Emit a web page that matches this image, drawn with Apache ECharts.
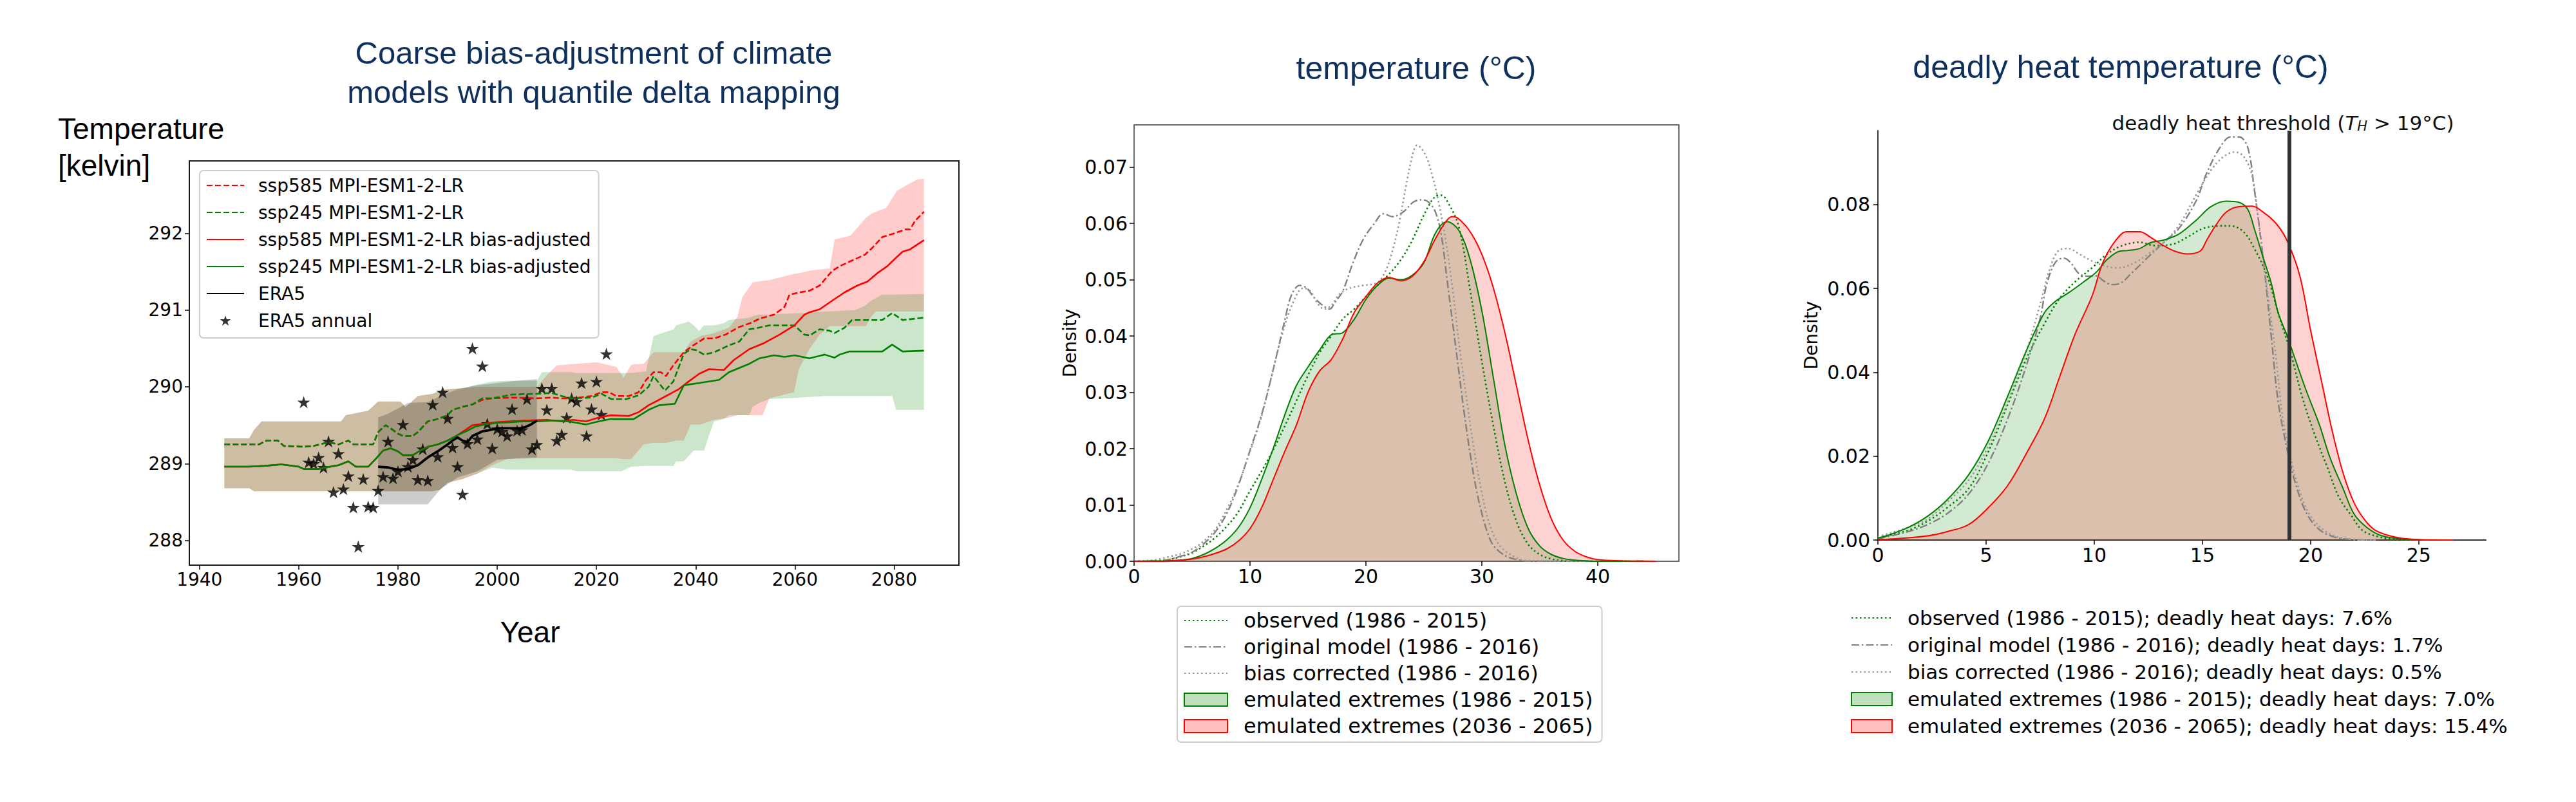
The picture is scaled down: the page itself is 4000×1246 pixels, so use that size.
<!DOCTYPE html>
<html><head><meta charset="utf-8">
<script src="https://cdn.jsdelivr.net/npm/echarts@6.0.0/dist/echarts.min.js"></script>
<style>html,body{margin:0;padding:0;background:#fff}#c{width:4000px;height:1246px}</style>
</head><body><div id="c"></div>
<script>
// ---------------- Panel 1 data (year, kelvin) ----------------
const P1_XTICKS = [1940, 1960, 1980, 2000, 2020, 2040, 2060, 2080];
const P1_YTICKS = [288, 289, 290, 291, 292];

const ssp585Raw = [[1945,289.25],[1952,289.25],[1953.5,289.30],[1955.8,289.30],[1957,289.23],[1961,289.22],[1963,289.23],[1966,289.28],[1968,289.25],[1970,289.30],[1971,289.25],[1975,289.25],[1976,289.41],[1977.5,289.50],[1978.5,289.46],[1980,289.39],[1981,289.36],[1983,289.36],[1984,289.41],[1985,289.48],[1986,289.55],[1988,289.58],[1990,289.63],[1991,289.70],[1993,289.74],[1995,289.77],[1997,289.83],[1999,289.85],[2003,289.86],[2008,289.85],[2011,289.86],[2013,289.85],[2015,289.85],[2019,289.88],[2021,289.93],[2022.5,289.93],[2024,289.88],[2026.5,289.88],[2028.5,289.93],[2030,290.09],[2031.5,290.19],[2033,290.19],[2034,290.14],[2035.5,290.28],[2037.6,290.45],[2039.5,290.54],[2041.7,290.63],[2043.7,290.63],[2046,290.68],[2048.8,290.78],[2051,290.83],[2053,290.89],[2055.8,290.94],[2057.9,291.04],[2058.9,291.20],[2060.9,291.23],[2062.9,291.25],[2065,291.32],[2067.5,291.51],[2069,291.57],[2071,291.63],[2074.1,291.72],[2075.6,291.81],[2077.6,291.95],[2080.1,292.00],[2082.2,292.05],[2083.2,292.05],[2084.2,292.16],[2086,292.28]];
const ssp245Raw = [[1945,289.25],[1952,289.25],[1953.5,289.30],[1955.8,289.30],[1957,289.23],[1961,289.22],[1963,289.23],[1966,289.28],[1968,289.25],[1970,289.30],[1971,289.25],[1975,289.25],[1976,289.41],[1977.5,289.50],[1978.5,289.46],[1980,289.39],[1981,289.36],[1983,289.36],[1984,289.41],[1985,289.48],[1986,289.55],[1988,289.58],[1990,289.63],[1991,289.70],[1993,289.74],[1995,289.77],[1997,289.85],[1999,289.85],[2003,289.90],[2008,289.91],[2011,289.92],[2013,289.88],[2015,289.85],[2019,289.86],[2021,289.91],[2023,289.84],[2026,289.84],[2028.5,289.89],[2030.5,290.00],[2031.5,290.14],[2033.8,289.95],[2035.5,290.07],[2037.6,290.43],[2039,290.49],[2040,290.48],[2041.7,290.42],[2043.7,290.45],[2046.7,290.54],[2048.8,290.59],[2050.8,290.75],[2052,290.76],[2054.8,290.80],[2059.9,290.80],[2061.9,290.68],[2063,290.67],[2065,290.75],[2067,290.73],[2068,290.70],[2070,290.77],[2071.5,290.87],[2077.6,290.87],[2079.6,290.96],[2081.7,290.87],[2086,290.90]];
const ssp585Adj = [[1945,288.96],[1950,288.96],[1953,288.97],[1956.5,288.99],[1960,288.96],[1961,288.93],[1964,288.93],[1965.5,288.95],[1968,288.98],[1970,289.03],[1971.5,288.96],[1974,288.96],[1975.5,289.06],[1977,289.17],[1978.5,289.20],[1980,289.16],[1981,289.11],[1983,289.11],[1984.5,289.17],[1986,289.22],[1988,289.25],[1990,289.30],[1992,289.37],[1995,289.50],[2000,289.54],[2005,289.56],[2010,289.57],[2013,289.55],[2015.3,289.57],[2017.9,289.55],[2020.4,289.60],[2022.9,289.63],[2026.5,289.62],[2028.5,289.67],[2030.5,289.76],[2032.6,289.83],[2034.6,289.90],[2036.6,289.97],[2038.6,290.07],[2040.7,290.17],[2042.7,290.23],[2045.7,290.22],[2047.7,290.35],[2050.8,290.49],[2053.8,290.57],[2056.9,290.68],[2059.9,290.80],[2061.9,290.94],[2062.9,290.97],[2065,291.01],[2067,291.10],[2070,291.23],[2072.6,291.32],[2074.6,291.37],[2076.6,291.48],[2078.6,291.57],[2080.2,291.67],[2081.7,291.76],[2083.2,291.79],[2086,291.91]];
const ssp245Adj = [[1945,288.96],[1950,288.96],[1953,288.97],[1956.5,288.99],[1960,288.96],[1961,288.93],[1964,288.93],[1965.5,288.95],[1968,288.98],[1970,289.03],[1971.5,288.96],[1974,288.96],[1975.5,289.06],[1977,289.17],[1978.5,289.20],[1980,289.16],[1981,289.11],[1983,289.11],[1984.5,289.17],[1986,289.22],[1988,289.25],[1990,289.30],[1992,289.37],[1994,289.43],[1995.5,289.48],[1997.5,289.51],[2000,289.53],[2003,289.54],[2005,289.55],[2008,289.55],[2011,289.56],[2013,289.56],[2015.3,289.54],[2017.9,289.51],[2020.4,289.55],[2022.9,289.58],[2027.5,289.58],[2030.5,289.70],[2032.6,289.76],[2035.8,289.78],[2037.6,290.02],[2040.7,290.05],[2044.7,290.09],[2046.7,290.19],[2050.8,290.30],[2052.8,290.37],[2055.8,290.41],[2057.9,290.39],[2059.9,290.41],[2062.9,290.37],[2066,290.42],[2068,290.38],[2069,290.42],[2071,290.46],[2077.6,290.46],[2079.6,290.55],[2081.7,290.46],[2086,290.47]];
const era5Smooth = [[1976,288.96],[1978,288.95],[1980,288.92],[1982,288.93],[1984,288.98],[1985,289.03],[1986,289.08],[1988,289.16],[1990,289.25],[1991,289.30],[1992,289.34],[1993,289.30],[1994,289.28],[1995,289.36],[1996,289.39],[1997,289.42],[1998,289.43],[2000,289.46],[2002,289.46],[2004.7,289.46],[2005.8,289.48],[2006.8,289.51],[2008,289.56]];
const annualYears = [1961,1962,1963,1964,1965,1966,1967,1968,1969,1970,1971,1972,1973,1974,1975,1976,1977,1978,1979,1980,1981,1982,1983,1984,1985,1986,1987,1988,1989,1990,1991,1992,1993,1994,1995,1996,1997,1998,1999,2000,2001,2002,2003,2004,2005,2006,2007,2008,2009,2010,2011,2012,2013,2014,2015,2016,2017,2018,2019,2020,2021,2022];
const era5Annual = [289.80,289.02,289.00,289.08,288.95,289.29,288.63,289.13,288.67,288.84,288.43,287.92,288.80,288.44,288.43,288.65,288.83,289.29,288.81,288.90,289.51,288.96,289.05,288.79,289.19,288.78,289.77,289.09,289.93,289.59,289.21,288.96,288.60,289.26,290.50,289.32,290.27,289.52,289.20,289.45,289.42,289.36,289.71,289.43,289.44,289.84,289.19,289.25,289.98,289.70,289.98,289.30,289.38,289.60,289.85,289.81,290.05,289.36,289.71,290.07,289.64,290.43];
// ranges: [year, low, high]
const ssp585Range = [[1945,288.68,289.33],[1950,288.68,289.33],[1951,288.64,289.44],[1952.5,288.64,289.55],[1968.5,288.64,289.55],[1969.5,288.64,289.63],[1974,288.64,289.69],[1976,288.64,289.81],[1980.5,288.64,289.81],[1981.5,288.64,289.74],[1982.5,288.64,289.79],[1984,288.64,289.88],[1987,288.64,289.91],[1988.5,288.66,289.95],[1990,288.75,289.97],[1993,288.80,289.98],[1996,288.87,290.00],[1999,288.98,290.00],[2002,289.06,290.00],[2008,289.07,290.00],[2010,289.07,290.15],[2012,289.07,290.28],[2016,289.07,290.30],[2020,289.07,290.32],[2024,289.07,290.26],[2025.5,289.06,290.12],[2027,289.06,290.29],[2029.5,289.25,290.30],[2031.5,289.27,290.45],[2034,289.27,290.45],[2036,289.30,290.45],[2037.6,289.30,290.45],[2039,289.51,290.59],[2041,289.51,290.66],[2043.7,289.57,290.70],[2046.7,289.60,290.77],[2048.4,289.63,290.91],[2049.4,289.63,291.17],[2051.5,289.63,291.36],[2053.5,289.63,291.38],[2054.8,289.85,291.39],[2059.8,289.93,291.47],[2060.8,290.23,291.48],[2062.9,290.49,291.51],[2065,290.68,291.53],[2067,290.79,291.54],[2068,290.79,291.92],[2071.2,290.79,291.97],[2074.3,290.79,292.20],[2075.3,290.91,292.25],[2076.3,290.98,292.28],[2078.4,290.98,292.33],[2080.5,290.98,292.55],[2082.6,290.98,292.63],[2084.7,290.98,292.70],[2086,290.98,292.71]];
const ssp245Range = [[1945,288.68,289.33],[1950,288.68,289.33],[1951,288.64,289.44],[1952.5,288.64,289.55],[1968.5,288.64,289.55],[1969.5,288.64,289.63],[1974,288.64,289.69],[1976,288.64,289.81],[1980.5,288.64,289.81],[1981.5,288.64,289.74],[1982.5,288.64,289.79],[1984,288.64,289.88],[1987,288.64,289.91],[1988.5,288.66,289.95],[1990,288.75,289.97],[1993,288.80,289.98],[1996,288.87,290.03],[1999,288.95,290.07],[2002,288.92,290.08],[2008,288.92,290.08],[2009,288.92,290.19],[2015,288.92,290.19],[2016,288.90,290.18],[2025,288.90,290.18],[2027,288.96,290.18],[2030,288.97,290.20],[2031.5,288.97,290.66],[2035.6,288.97,290.75],[2036,289.03,290.80],[2037.6,289.03,290.83],[2038.6,289.10,290.85],[2039.6,289.17,290.80],[2040.7,289.17,290.73],[2041.7,289.17,290.80],[2042.7,289.37,290.80],[2043.7,289.55,290.80],[2045.7,289.58,290.83],[2046.7,289.63,290.87],[2050.8,289.63,290.90],[2051.5,289.74,290.92],[2052.8,289.79,290.94],[2054.8,289.84,290.94],[2060.9,289.86,290.96],[2066,289.88,290.98],[2072,289.88,291.00],[2074,289.88,291.05],[2075.5,289.88,291.13],[2077.6,289.88,291.20],[2079.6,289.88,291.20],[2080.4,289.70,291.20],[2086,289.70,291.21]];
const era5Range = [[1976,288.47,289.60],[1978,288.47,289.65],[1980,288.47,289.72],[1982,288.47,289.79],[1986,288.47,289.80],[1988.6,288.67,289.88],[1992,288.82,289.97],[1996,288.90,290.02],[2000,289.05,290.05],[2004,289.07,290.08],[2008,289.08,290.10]];

// ---------------- Panel 2 data (temperature °C, density) ----------------
const P2_XTICKS = [0, 10, 20, 30, 40];
const P2_YTICKS = [0, 0.01, 0.02, 0.03, 0.04, 0.05, 0.06, 0.07];
const tempObserved = [[0,0],[2,0.0001],[3,0.0003],[4,0.0008],[5,0.0015],[6,0.0027],[7,0.0042],[8,0.0062],[9,0.0088],[10,0.0125],[11,0.016],[12,0.0198],[13,0.024],[14,0.0285],[15,0.033],[16,0.037],[17,0.040],[18,0.043],[19,0.0448],[20,0.047],[21,0.049],[22,0.051],[23,0.0535],[24,0.057],[25,0.0615],[26,0.0648],[26.5,0.065],[27,0.064],[28,0.0595],[29,0.048],[30,0.0355],[31,0.024],[32,0.014],[33,0.007],[34,0.003],[35,0.0012],[36,0.0004],[37,0.0001],[38,0],[44,0]];
const tempOriginal = [[0,0],[2,0.0001],[3,0.0003],[4,0.0009],[5,0.0016],[6,0.0031],[7,0.0052],[8,0.0085],[9,0.0135],[10,0.0197],[11,0.026],[12,0.034],[13,0.0428],[13.6,0.0474],[14.3,0.049],[14.9,0.0485],[15.5,0.0469],[16.3,0.0454],[16.9,0.0448],[17.3,0.0459],[18,0.048],[18.9,0.0531],[19.8,0.0573],[20.7,0.0599],[21.5,0.0617],[22.3,0.0612],[23.2,0.062],[24.1,0.0638],[24.8,0.0642],[25.4,0.0638],[26,0.062],[26.5,0.058],[27,0.05],[27.5,0.042],[28,0.034],[28.5,0.026],[29,0.019],[29.5,0.013],[30,0.0085],[30.5,0.005],[31,0.0028],[32,0.001],[33,0.0003],[34,0],[44,0]];
const tempBiasCorr = [[0,0],[1,0.0001],[2,0.0003],[3,0.0008],[4,0.0013],[5,0.0022],[5.6,0.0029],[6.9,0.0054],[8.1,0.0096],[9,0.0137],[9.9,0.0189],[10.9,0.0251],[11.8,0.0324],[12.7,0.0397],[13.6,0.0454],[14.6,0.0485],[15.2,0.048],[15.8,0.0459],[16.4,0.0448],[17,0.0454],[17.7,0.0474],[18.6,0.0485],[19.8,0.049],[21,0.0495],[21.7,0.0516],[22.3,0.0552],[22.9,0.0604],[23.5,0.0671],[24.1,0.0728],[24.4,0.0739],[25.1,0.0723],[25.7,0.0687],[26.3,0.0635],[26.9,0.0568],[27.5,0.048],[28.1,0.0376],[28.8,0.0272],[29.4,0.0189],[30,0.0122],[30.6,0.007],[31.5,0.0029],[32.8,0.0008],[34,0.0001],[44,0]];
const tempEmuHist = [[0,0],[3,0.0001],[4,0.0002],[5,0.0005],[6,0.0012],[7,0.0023],[8,0.0038],[9,0.006],[10,0.0095],[11,0.0145],[12,0.020],[13,0.026],[14,0.0312],[15,0.0345],[16,0.0375],[17,0.0402],[18,0.0406],[19,0.043],[20,0.0465],[21,0.049],[22,0.0503],[23,0.050],[24,0.0508],[25,0.053],[26,0.0583],[27,0.0603],[28,0.0588],[29,0.0535],[30,0.0445],[31,0.0325],[32,0.0205],[33,0.0118],[34,0.0058],[35,0.0027],[36,0.0012],[37,0.0005],[38,0.0002],[40,0],[44,0]];
const tempEmuFut = [[0,0],[2,0],[4,0.0002],[5,0.0004],[6,0.0008],[7,0.0014],[8,0.0022],[9,0.0036],[10,0.0058],[11,0.0095],[12,0.0145],[13,0.0195],[14,0.0242],[15,0.030],[16,0.0338],[17,0.0358],[18,0.0395],[19,0.0442],[20,0.047],[21,0.0494],[22,0.0504],[23,0.0498],[24,0.0506],[25,0.0532],[26,0.0573],[27,0.0606],[27.5,0.0612],[28,0.0608],[29,0.0585],[30,0.0545],[31,0.0485],[32,0.0405],[33,0.031],[34,0.0215],[35,0.0135],[36,0.0075],[37,0.0038],[38,0.0018],[39,0.0008],[40,0.0003],[42,0.0001],[45,0]];

// ---------------- Panel 3 data (deadly heat temperature °C, density) ----------------
const P3_XTICKS = [0, 5, 10, 15, 20, 25];
const P3_YTICKS = [0, 0.02, 0.04, 0.06, 0.08];
const THRESHOLD = 19;
const heatObserved = [[0,0.0005],[1.4,0.0023],[2.3,0.0045],[3.2,0.0077],[4.2,0.0123],[5.1,0.021],[6,0.0323],[6.9,0.0436],[7.7,0.0516],[8.4,0.0576],[9.1,0.0615],[9.9,0.0649],[10.6,0.0682],[11.3,0.0702],[12.1,0.071],[12.8,0.0702],[13.6,0.0705],[14.3,0.0722],[15,0.0742],[15.8,0.0749],[16.3,0.0749],[16.9,0.0735],[17.4,0.0695],[18,0.0629],[18.5,0.0542],[19.1,0.0442],[19.6,0.0343],[20.2,0.025],[20.8,0.017],[21.3,0.0103],[21.9,0.0057],[22.4,0.0023],[23.2,0.0007],[24,0.0001],[25,0]];
const heatOriginal = [[0,0.0003],[1.4,0.002],[2.3,0.0037],[3.2,0.0063],[4.2,0.011],[5.1,0.0183],[6,0.0289],[6.9,0.0422],[7.5,0.0529],[7.8,0.0609],[8.2,0.0662],[8.6,0.0672],[8.9,0.0662],[9.3,0.0635],[9.7,0.0629],[10.1,0.063],[10.4,0.0619],[10.8,0.0609],[11.2,0.0612],[11.7,0.0635],[12.5,0.0675],[13.2,0.0709],[13.9,0.0742],[14.7,0.0808],[15.2,0.0875],[15.8,0.0935],[16.3,0.0961],[16.7,0.0961],[17.1,0.0935],[17.4,0.0835],[17.8,0.0675],[18.2,0.0476],[18.5,0.033],[18.9,0.022],[19.3,0.0135],[19.8,0.0065],[20.4,0.0025],[21.1,0.0007],[22,0.0001],[23,0]];
const heatBiasCorr = [[0,0.0008],[1.4,0.003],[2.3,0.005],[3.2,0.009],[4.2,0.0143],[5.1,0.0223],[6,0.0329],[6.9,0.0456],[7.5,0.0562],[8,0.0655],[8.4,0.0692],[8.8,0.0695],[9.3,0.0682],[9.9,0.0665],[10.4,0.0655],[11,0.0649],[11.3,0.065],[11.9,0.0662],[12.5,0.0682],[13.2,0.0709],[13.9,0.0749],[14.7,0.0822],[15.4,0.0882],[16,0.0915],[16.5,0.0925],[16.9,0.0915],[17.3,0.0868],[17.6,0.0755],[18,0.0595],[18.4,0.0436],[18.7,0.0296],[19.1,0.019],[19.5,0.0116],[20,0.0057],[20.8,0.0017],[21.7,0.0003],[23,0]];
const heatEmuHist = [[0,0.0005],[0.5,0.0012],[1.4,0.003],[2.3,0.0057],[3.2,0.0096],[4.2,0.0156],[5.1,0.0236],[6,0.0343],[6.9,0.0456],[7.7,0.0542],[8.2,0.0569],[8.8,0.0589],[9.5,0.0615],[10.1,0.0639],[10.6,0.0669],[11.2,0.0689],[11.5,0.069],[12.1,0.0695],[12.6,0.0709],[13.2,0.0715],[13.9,0.0729],[14.7,0.0762],[15.4,0.0795],[16.1,0.0808],[16.7,0.0805],[17.1,0.0788],[17.4,0.0742],[17.8,0.0675],[18.2,0.0609],[18.5,0.0542],[18.9,0.0489],[19.3,0.0429],[19.8,0.0356],[20.4,0.0276],[20.9,0.0196],[21.5,0.0123],[22,0.0063],[22.6,0.003],[23.3,0.001],[24.4,0.0002],[25.5,0]];
const heatEmuFut = [[0,0.0001],[1,0.0004],[2.3,0.001],[3.2,0.002],[4.2,0.0037],[5.1,0.0077],[6,0.013],[6.9,0.021],[7.7,0.0289],[8.4,0.0389],[9.1,0.0489],[9.9,0.0582],[10.4,0.0662],[11,0.0715],[11.5,0.0735],[12.1,0.0735],[12.6,0.0722],[13.2,0.0702],[13.7,0.0689],[14.3,0.0682],[14.9,0.0689],[15.2,0.0715],[15.6,0.0749],[16.1,0.0782],[16.7,0.0795],[17.3,0.0796],[17.8,0.0782],[18.4,0.0755],[18.9,0.0715],[19.5,0.063],[20,0.050],[20.5,0.038],[21,0.026],[21.5,0.016],[22,0.009],[22.5,0.0048],[23,0.0023],[24,0.0006],[25,0.0001],[26.6,0]];

// ---------------- Labels ----------------
const P1_NAMES = ['ssp585 MPI-ESM1-2-LR', 'ssp245 MPI-ESM1-2-LR', 'ssp585 MPI-ESM1-2-LR bias-adjusted', 'ssp245 MPI-ESM1-2-LR bias-adjusted', 'ERA5', 'ERA5 annual'];
const P2_NAMES = ['observed (1986 - 2015)', 'original model (1986 - 2016)', 'bias corrected (1986 - 2016)', 'emulated extremes (1986 - 2015)', 'emulated extremes (2036 - 2065)'];
const P3_NAMES = ['observed (1986 - 2015); deadly heat days: 7.6%', 'original model (1986 - 2016); deadly heat days: 1.7%', 'bias corrected (1986 - 2016); deadly heat days: 0.5%', 'emulated extremes (1986 - 2015); deadly heat days: 7.0%', 'emulated extremes (2036 - 2065); deadly heat days: 15.4%'];

// ---------------- Styles ----------------
const FONT = 'DejaVu Sans';
const TITLE_FONT = 'Liberation Sans';
const NAVY = '#0f2f5c';
const GREEN = '#008000', RED = '#ff0000', GRAY = '#808080', LGRAY = '#9a9a9a';
const STAR = 'path://M0,-1L0.2245,-0.309L0.9511,-0.309L0.3633,0.118L0.5878,0.809L0,0.382L-0.5878,0.809L-0.3633,0.118L-0.9511,-0.309L-0.2245,-0.309Z';
const DOT = [2.5, 4], DASH = [9, 4], DASHDOT = [12, 4, 2.5, 4];

function band(name, data, fill, idx) {
  return {
    type: 'custom', name: name, xAxisIndex: idx, yAxisIndex: idx, silent: true, clip: true,
    data: data, encode: { x: 0, y: [1, 2] },
    renderItem: function (params, api) {
      if (params.dataIndex !== 0) return null;
      const pts = [];
      for (let i = 0; i < data.length; i++) pts.push(api.coord([data[i][0], data[i][2]]));
      for (let i = data.length - 1; i >= 0; i--) pts.push(api.coord([data[i][0], data[i][1]]));
      return { type: 'polygon', shape: { points: pts }, style: { fill: fill } };
    }
  };
}
function line(name, data, idx, color, width, type, extra) {
  return Object.assign({
    type: 'line', name: name, xAxisIndex: idx, yAxisIndex: idx, data: data,
    symbol: 'none', showSymbol: false, silent: true,
    lineStyle: { color: color, width: width, type: type },
    itemStyle: { color: color }
  }, extra || {});
}
function axisLbl(size, ticks, margin, fmt) {
  return { customValues: ticks, color: '#000', fontFamily: FONT, fontSize: size, margin: margin, formatter: fmt };
}
const f2 = v => v.toFixed(2);
const fi = v => String(Math.round(v));
// line-only legend handle: hide the marker that ECharts puts in the middle
const lineItem = n => ({ name: n, itemStyle: { color: 'rgba(0,0,0,0)', borderColor: 'rgba(0,0,0,0)', borderWidth: 0, opacity: 0 } });

const option = {
  animation: false,
  backgroundColor: '#ffffff',
  textStyle: { fontFamily: FONT },
  grid: [
    { left: 294, top: 250, width: 1195, height: 628, show: true, borderColor: '#1a1a1a', borderWidth: 2, backgroundColor: 'transparent' },
    { left: 1761, top: 194, width: 846, height: 678, show: true, borderColor: '#3a3a3a', borderWidth: 1.5, backgroundColor: 'transparent' },
    { left: 2916, top: 203, width: 944, height: 636, show: false }
  ],
  xAxis: [
    { gridIndex: 0, type: 'value', min: 1937.95, max: 2093.05, axisLine: { show: false }, splitLine: { show: false },
      axisTick: { customValues: P1_XTICKS, length: 7, lineStyle: { color: '#000', width: 1.5 } }, axisLabel: axisLbl(28, P1_XTICKS, 8, fi) },
    { gridIndex: 1, type: 'value', min: 0, max: 47, axisLine: { show: false }, splitLine: { show: false },
      axisTick: { customValues: P2_XTICKS, length: 7, lineStyle: { color: '#000', width: 1.5 } }, axisLabel: axisLbl(30, P2_XTICKS, 8, fi) },
    { gridIndex: 2, type: 'value', min: 0, max: 28.1, axisLine: { show: true, onZero: false, lineStyle: { color: '#333', width: 2 } }, splitLine: { show: false },
      axisTick: { customValues: P3_XTICKS, length: 7, lineStyle: { color: '#000', width: 1.5 } }, axisLabel: axisLbl(30, P3_XTICKS, 8, fi) }
  ],
  yAxis: [
    { gridIndex: 0, type: 'value', min: 287.678, max: 292.942, axisLine: { show: false }, splitLine: { show: false },
      axisTick: { customValues: P1_YTICKS, length: 7, lineStyle: { color: '#000', width: 1.5 } }, axisLabel: axisLbl(28, P1_YTICKS, 10, fi) },
    { gridIndex: 1, type: 'value', min: 0, max: 0.0775, axisLine: { show: false }, splitLine: { show: false },
      name: 'Density', nameLocation: 'middle', nameGap: 86, nameRotate: 90, nameTextStyle: { fontFamily: FONT, fontSize: 28, color: '#000' },
      axisTick: { customValues: P2_YTICKS, length: 7, lineStyle: { color: '#000', width: 1.5 } }, axisLabel: axisLbl(30, P2_YTICKS, 10, f2) },
    { gridIndex: 2, type: 'value', min: 0, max: 0.0976, axisLine: { show: true, onZero: false, lineStyle: { color: '#333', width: 2 } }, splitLine: { show: false },
      name: 'Density', nameLocation: 'middle', nameGap: 90, nameRotate: 90, nameTextStyle: { fontFamily: FONT, fontSize: 28, color: '#000' },
      axisTick: { customValues: P3_YTICKS, length: 7, lineStyle: { color: '#000', width: 1.5 } }, axisLabel: axisLbl(30, P3_YTICKS, 12, f2) }
  ],
  legend: [
    { left: 310, top: 265, orient: 'vertical', selectedMode: false, itemWidth: 58, itemHeight: 16, itemGap: 12,
      padding: [8, 12, 12, 10], borderColor: '#cccccc', borderWidth: 2, borderRadius: 6, backgroundColor: 'rgba(255,255,255,0.8)',
      textStyle: { fontFamily: FONT, fontSize: 28, color: '#000', lineHeight: 30, padding: [0, 0, 0, 17] },
      data: P1_NAMES.slice(0, 5).map(lineItem).concat([{ name: P1_NAMES[5], icon: STAR }]) },
    { left: 1828, top: 942, orient: 'vertical', selectedMode: false, itemWidth: 67, itemHeight: 20, itemGap: 7,
      padding: [5, 14, 8, 10], borderColor: '#cccccc', borderWidth: 2, borderRadius: 6, backgroundColor: 'rgba(255,255,255,0.8)',
      textStyle: { fontFamily: FONT, fontSize: 32, color: '#000', lineHeight: 34, padding: [0, 0, 0, 20] },
      data: P2_NAMES.slice(0, 3).map(lineItem).concat([
        { name: P2_NAMES[3], icon: 'rect', itemStyle: { color: 'rgba(0,128,0,0.25)', borderColor: GREEN, borderWidth: 2 } },
        { name: P2_NAMES[4], icon: 'rect', itemStyle: { color: 'rgba(255,0,0,0.25)', borderColor: RED, borderWidth: 2 } }]) },
    { left: 2864, top: 938, orient: 'vertical', selectedMode: false, itemWidth: 63, itemHeight: 20, itemGap: 8,
      padding: [5, 10, 8, 10], backgroundColor: 'rgba(255,255,255,0.8)',
      textStyle: { fontFamily: FONT, fontSize: 31, color: '#000', lineHeight: 34, padding: [0, 0, 0, 19] },
      data: P3_NAMES.slice(0, 3).map(lineItem).concat([
        { name: P3_NAMES[3], icon: 'rect', itemStyle: { color: 'rgba(0,128,0,0.25)', borderColor: GREEN, borderWidth: 2 } },
        { name: P3_NAMES[4], icon: 'rect', itemStyle: { color: 'rgba(255,0,0,0.25)', borderColor: RED, borderWidth: 2 } }]) }
  ],
  graphic: [
    { type: 'text', x: 922, y: 112, style: { text: 'Coarse bias-adjustment of climate\nmodels with quantile delta mapping', fontFamily: TITLE_FONT, fontSize: 49, lineHeight: 61, fill: NAVY, align: 'center', verticalAlign: 'middle' } },
    { type: 'text', x: 2199, y: 106, style: { text: 'temperature (°C)', fontFamily: TITLE_FONT, fontSize: 50, fill: NAVY, align: 'center', verticalAlign: 'middle' } },
    { type: 'text', x: 3293, y: 104, style: { text: 'deadly heat temperature (°C)', fontFamily: TITLE_FONT, fontSize: 50, fill: NAVY, align: 'center', verticalAlign: 'middle' } },
    { type: 'text', x: 90, y: 228, style: { text: 'Temperature\n[kelvin]', fontFamily: TITLE_FONT, fontSize: 46, lineHeight: 57, fill: '#000', align: 'left', verticalAlign: 'middle' } },
    { type: 'text', x: 823, y: 982, style: { text: 'Year', fontFamily: TITLE_FONT, fontSize: 46, fill: '#000', align: 'center', verticalAlign: 'middle' } },
    { type: 'text', x: 3545, y: 186, style: {
        text: '{a|deadly heat threshold (}{i|T}{s|H}{a| > 19°C)}', align: 'center', verticalAlign: 'middle', fill: '#111',
        rich: {
          a: { fontFamily: FONT, fontSize: 31, lineHeight: 40, verticalAlign: 'bottom', fill: '#111' },
          i: { fontFamily: FONT, fontSize: 31, fontStyle: 'italic', lineHeight: 40, verticalAlign: 'bottom', fill: '#111' },
          s: { fontFamily: FONT, fontSize: 21, fontStyle: 'italic', lineHeight: 22, padding: [18, 0, 0, 0], verticalAlign: 'bottom', fill: '#111' }
        } } }
  ],
  series: [
    // ---- panel 1
    band('ssp585 range', ssp585Range, 'rgba(255,0,0,0.2)', 0),
    band('ssp245 range', ssp245Range, 'rgba(0,128,0,0.2)', 0),
    band('ERA5 range', era5Range, 'rgba(0,0,0,0.2)', 0),
    line(P1_NAMES[0], ssp585Raw, 0, RED, 2.6, DASH),
    line(P1_NAMES[1], ssp245Raw, 0, GREEN, 2.6, DASH),
    line(P1_NAMES[2], ssp585Adj, 0, RED, 2.6, 'solid'),
    line(P1_NAMES[3], ssp245Adj, 0, GREEN, 2.6, 'solid'),
    line(P1_NAMES[4], era5Smooth, 0, '#000', 3.8, 'solid'),
    { type: 'scatter', name: P1_NAMES[5], xAxisIndex: 0, yAxisIndex: 0, silent: true,
      data: annualYears.map((y, i) => [y, era5Annual[i]]),
      symbol: STAR, symbolSize: 20, symbolKeepAspect: true, itemStyle: { color: '#000' } },
    // ---- panel 2
    line(P2_NAMES[0], tempObserved, 1, GREEN, 2.6, DOT, { smooth: 0.35 }),
    line(P2_NAMES[1], tempOriginal, 1, GRAY, 2.4, DASHDOT, { smooth: 0.35 }),
    line(P2_NAMES[2], tempBiasCorr, 1, LGRAY, 2.6, DOT, { smooth: 0.35 }),
    line(P2_NAMES[3], tempEmuHist, 1, GREEN, 2, 'solid', { smooth: 0.35, areaStyle: { color: 'rgba(0,128,0,0.25)', origin: 'start' } }),
    line(P2_NAMES[4], tempEmuFut, 1, RED, 2, 'solid', { smooth: 0.35, areaStyle: { color: 'rgba(255,0,0,0.25)', origin: 'start' } }),
    // ---- panel 3
    line(P3_NAMES[0], heatObserved, 2, GREEN, 2.6, DOT, { smooth: 0.35 }),
    line(P3_NAMES[1], heatOriginal, 2, GRAY, 2.4, DASHDOT, { smooth: 0.35 }),
    line(P3_NAMES[2], heatBiasCorr, 2, LGRAY, 2.6, DOT, { smooth: 0.35 }),
    line(P3_NAMES[3], heatEmuHist, 2, GREEN, 2, 'solid', { smooth: 0.35, areaStyle: { color: 'rgba(0,128,0,0.25)', origin: 'start' } }),
    line(P3_NAMES[4], heatEmuFut, 2, RED, 2, 'solid', { smooth: 0.35, areaStyle: { color: 'rgba(255,0,0,0.25)', origin: 'start' },
      markLine: { silent: true, symbol: ['none', 'none'], label: { show: false },
        lineStyle: { color: '#333', width: 6, type: 'solid', opacity: 1 }, data: [{ xAxis: THRESHOLD }] } })
  ]
};
const chart = echarts.init(document.getElementById('c'), null, { renderer: 'svg', width: 4000, height: 1246 });
chart.setOption(option);
</script></body></html>
